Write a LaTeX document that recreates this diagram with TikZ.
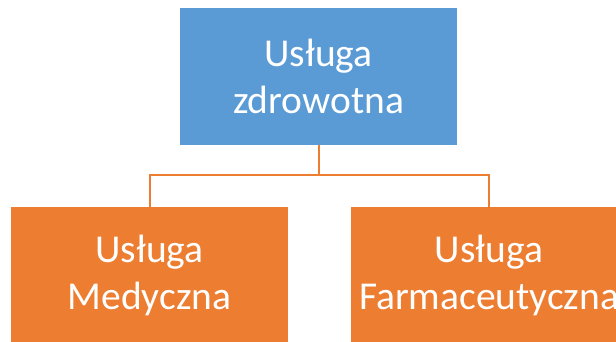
\documentclass[tikz,border=0pt]{standalone}
\usepackage{fontspec}
\setmainfont{Carlito}
\definecolor{boxblue}{HTML}{5B9BD5}
\definecolor{boxorange}{HTML}{ED7D31}
\begin{document}
\begin{tikzpicture}[x=1pt,y=-1pt,
  unit/.style={rectangle, minimum width=277pt, minimum height=137pt,
    inner sep=0pt, text=white, align=center,
    font=\fontsize{39.5}{47}\selectfont},
  link/.style={draw=boxorange, line width=2pt}]
  \useasboundingbox (0,0) rectangle (616,342);
  \clip (0,0) rectangle (616,342);
  \node[unit, fill=boxblue] (top) at (318.5,76.5) {Usługa\\zdrowotna};
  \node[unit, fill=boxorange] (med) at (149.5,275.5) {Usługa\\Medyczna};
  \node[unit, fill=boxorange] (farm) at (489,275.5) {Usługa\\Farmaceutyczna};
  \coordinate (split) at (318.5,175);
  \draw[link] (top.south) -- (split) -| (med.north);
  \draw[link] (split) -| (farm.north);
\end{tikzpicture}
\end{document}
